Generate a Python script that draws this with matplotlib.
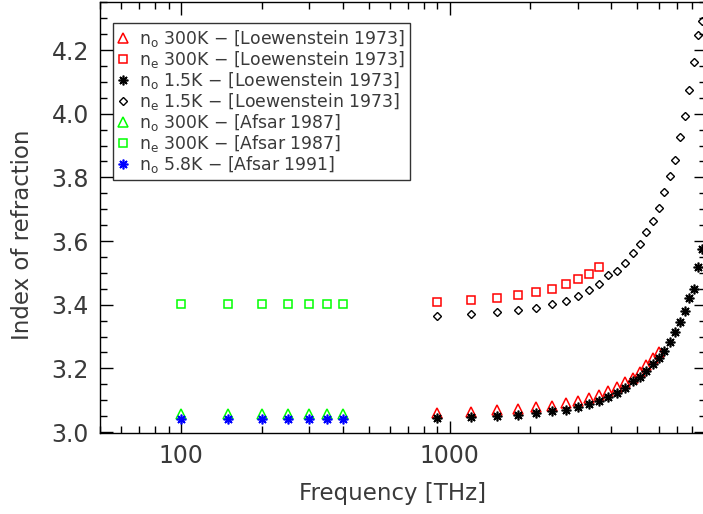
import numpy as np
import matplotlib
matplotlib.use("Agg")
import matplotlib.pyplot as plt
from matplotlib.ticker import MultipleLocator, FixedLocator, NullFormatter

# Loewenstein 1973 frequency grid [THz]
freq_lw = [900, 1200, 1500, 1800, 2100, 2400, 2700, 3000, 3300, 3600,
           3900, 4200, 4500, 4800, 5100, 5400, 5700, 6000, 6300, 6600,
           6900, 7200, 7500, 7800, 8100, 8400, 8700]

# n_o 300K (Loewenstein)
no_300_lw = [3.061, 3.064, 3.068, 3.072, 3.078, 3.083, 3.090, 3.097, 3.106,
             3.117, 3.128, 3.140, 3.156, 3.171, 3.190, 3.211, 3.232, 3.253]
# n_e 300K (Loewenstein)
ne_300_lw = [3.410, 3.415, 3.422, 3.432, 3.441, 3.450, 3.465, 3.480, 3.498, 3.520]
# n_o 1.5K (Loewenstein)
no_15_lw = [3.043, 3.048, 3.051, 3.054, 3.060, 3.065, 3.070, 3.079, 3.088,
            3.097, 3.111, 3.124, 3.139, 3.159, 3.173, 3.193, 3.214, 3.234,
            3.256, 3.282, 3.314, 3.346, 3.380, 3.422, 3.449, 3.518, 3.575]
# n_e 1.5K (Loewenstein)
ne_15_lw = [3.366, 3.372, 3.377, 3.383, 3.391, 3.403, 3.411, 3.427, 3.447,
            3.465, 3.494, 3.506, 3.530, 3.561, 3.590, 3.627, 3.664, 3.703,
            3.753, 3.803, 3.855, 3.927, 3.992, 4.075, 4.161, 4.246, 4.290]

# Afsar frequency grid [THz]
freq_af = [100, 150, 200, 250, 300, 350, 400]
no_300_af87 = [3.058, 3.058, 3.058, 3.058, 3.058, 3.058, 3.058]
ne_300_af87 = [3.402, 3.402, 3.402, 3.402, 3.402, 3.402, 3.402]
no_58_af91 = [3.040, 3.040, 3.040, 3.040, 3.040, 3.040, 3.040]

labels = [r"n$_\mathrm{o}$ 300K $-$ [Loewenstein 1973]",
          r"n$_\mathrm{e}$ 300K $-$ [Loewenstein 1973]",
          r"n$_\mathrm{o}$ 1.5K $-$ [Loewenstein 1973]",
          r"n$_\mathrm{e}$ 1.5K $-$ [Loewenstein 1973]",
          r"n$_\mathrm{o}$ 300K $-$ [Afsar 1987]",
          r"n$_\mathrm{e}$ 300K $-$ [Afsar 1987]",
          r"n$_\mathrm{o}$ 5.8K $-$ [Afsar 1991]"]

txt = "#3a3a3a"
plt.rcParams['font.family'] = ['DejaVu Sans']
plt.rcParams['mathtext.fontset'] = 'dejavusans'

fig = plt.figure(figsize=(7.03, 5.14), dpi=100)
ax = fig.add_axes([100/703, 81/514, 606/703, 431/514])

star = (8, 2, 0)
ax.plot(freq_lw[:len(no_300_lw)], no_300_lw, ls='none', marker='^', ms=6.5,
        mfc='none', mec='red', mew=1.1, label=labels[0])
ax.plot(freq_lw[:len(ne_300_lw)], ne_300_lw, ls='none', marker='s', ms=6,
        mfc='none', mec='red', mew=1.1, label=labels[1])
ax.plot(freq_lw, no_15_lw, ls='none', marker=star, ms=7, mec='black',
        mfc='black', mew=1.2, label=labels[2])
ax.plot(freq_lw, ne_15_lw, ls='none', marker='D', ms=4.5, mfc='none',
        mec='black', mew=1.0, label=labels[3])
ax.plot(freq_af, no_300_af87, ls='none', marker='^', ms=6.5, mfc='none',
        mec='#00ff00', mew=1.1, label=labels[4])
ax.plot(freq_af, ne_300_af87, ls='none', marker='s', ms=6, mfc='none',
        mec='#00ff00', mew=1.1, label=labels[5])
ax.plot(freq_af, no_58_af91, ls='none', marker=star, ms=7, mec='blue',
        mfc='blue', mew=1.2, label=labels[6])

ax.set_xscale('log')
ax.set_xlim(50, 9000)
ax.set_ylim(2.997, 4.351)

ax.xaxis.set_major_locator(FixedLocator([100, 1000]))
ax.xaxis.set_minor_locator(FixedLocator([m * 10**k for k in (1, 2, 3)
                                         for m in range(2, 10)]))
ax.xaxis.set_minor_formatter(NullFormatter())
ax.set_xticklabels(["100", "1000"])
ax.yaxis.set_major_locator(MultipleLocator(0.2))
ax.yaxis.set_minor_locator(MultipleLocator(0.05))
ax.yaxis.set_major_formatter(plt.FuncFormatter(lambda v, p: f"{v:.1f}"))

ax.tick_params(which='both', direction='in', top=True, right=True,
               labelsize=17, labelcolor=txt, width=1, pad=8)
ax.tick_params(which='major', length=9)
ax.tick_params(which='minor', length=5)
for s in ax.spines.values():
    s.set_linewidth(1)

ax.set_xlabel("Frequency [THz]", fontsize=16.5, color=txt)
ax.set_ylabel("Index of refraction", fontsize=16.5, color=txt)
ax.xaxis.set_label_coords((393 - 100) / 606, -49 / 431)
ax.yaxis.set_label_coords(-66 / 606, (433 - 235) / 431)

leg = ax.legend(loc='upper left', bbox_to_anchor=(13 / 606, (433 - 23) / 431),
                borderaxespad=0, fancybox=False, frameon=True, fontsize=12.4,
                handlelength=0.6, handletextpad=0.6, labelspacing=0.0,
                borderpad=0.3, numpoints=1, edgecolor='black')
leg.get_frame().set_linewidth(1)
for t in leg.get_texts():
    t.set_color(txt)

fig.savefig("out.png", dpi=100)
